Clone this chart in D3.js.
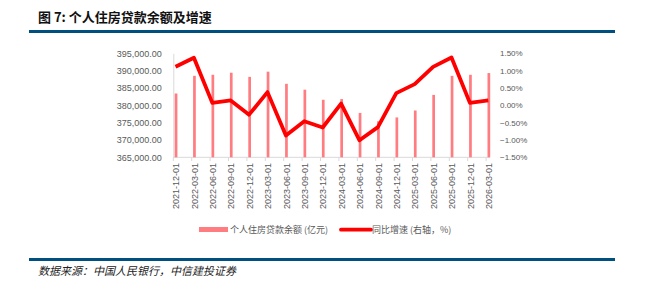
<!DOCTYPE html>
<html>
<head>
<meta charset="utf-8">
<script src="https://cdn.jsdelivr.net/npm/d3@7"></script>
<style>
	body { margin: 0; background: #fff; }
	text { font-family: "Liberation Sans", "Noto Sans CJK SC", sans-serif; }
	.cjk { font-family: "Noto Sans CJK SC", sans-serif; }
</style>
</head>
<body>
<div id="chart"></div>
<script>
///////////////////////////////////////////////////////////////////////////////
//// Data /////////////////////////////////////////////////////////////////////
///////////////////////////////////////////////////////////////////////////////
const categories = [
	"2021-12-01", "2022-03-01", "2022-06-01", "2022-09-01", "2022-12-01",
	"2023-03-01", "2023-06-01", "2023-09-01", "2023-12-01", "2024-03-01",
	"2024-06-01", "2024-09-01", "2024-12-01", "2025-03-01", "2025-06-01",
	"2025-09-01", "2025-12-01", "2026-03-01"
];

// 个人住房贷款余额 (亿元)
const balance = [
	383400, 388500, 388800, 389400, 388200, 389700, 386200, 384500, 381600,
	381800, 377800, 375400, 376500, 378500, 383000, 388500, 388800, 389300
];

// 同比增速 (%)
const growth = [
	1.11, 1.37, 0.07, 0.14, -0.27, 0.38, -0.87, -0.46, -0.64,
	0.05, -1.01, -0.63, 0.35, 0.61, 1.11, 1.38, 0.07, 0.14
];

const leftTicks = [365000, 370000, 375000, 380000, 385000, 390000, 395000];
const rightTicks = [-1.5, -1.0, -0.5, 0, 0.5, 1.0, 1.5];

const title = "图 7: 个人住房贷款余额及增速";
const source = "数据来源：中国人民银行，中信建投证券";
const legendBar = "个人住房贷款余额 (亿元)";
const legendLine = "同比增速 (右轴，%)";

///////////////////////////////////////////////////////////////////////////////
//// Set Up ///////////////////////////////////////////////////////////////////
///////////////////////////////////////////////////////////////////////////////
const width = 672, height = 292;
const barColor = "#ff7c80", lineColor = "#ff0000";
const axisColor = "#d9d9d9", labelColor = "#595959";

const svg = d3.select("#chart")
	.append("svg")
		.attr("width", width)
		.attr("height", height);

const x = d3.scalePoint()
		.domain(categories)
		.range([176, 488.8]);

const yLeft = d3.scaleLinear()
		.domain([365000, 395000])
		.range([157.3, 53.3]);

const yRight = d3.scaleLinear()
		.domain([-1.5, 1.5])
		.range([157.3, 53.3]);

///////////////////////////////////////////////////////////////////////////////
// Title and rules
svg.append("text")
		.attr("class", "cjk")
		.attr("x", 38)
		.attr("y", 21.5)
		.attr("font-size", 13)
		.attr("font-weight", "bold")
		.attr("fill", "#111")
		.text(title);

svg.append("rect")
		.attr("x", 29).attr("y", 30)
		.attr("width", 586).attr("height", 3)
		.attr("fill", "#00507f");

svg.append("rect")
		.attr("x", 29).attr("y", 258)
		.attr("width", 586).attr("height", 3)
		.attr("fill", "#00507f");

svg.append("text")
		.attr("class", "cjk")
		.attr("x", 38)
		.attr("y", 275)
		.attr("font-size", 11)
		.attr("font-style", "italic")
		.attr("fill", "#222")
		.text(source);

///////////////////////////////////////////////////////////////////////////////
//// Axes /////////////////////////////////////////////////////////////////////
///////////////////////////////////////////////////////////////////////////////
const fmtLeft = d3.format(",.2f");
const fmtRight = d => d3.format(".2f")(d) + "%";

const leftAxis = svg.append("g")
		.attr("transform", "translate(173.3, 0)")
		.call(d3.axisLeft(yLeft).tickValues(leftTicks).tickSize(0).tickPadding(11.5).tickFormat(fmtLeft));
leftAxis.select(".domain").attr("stroke", axisColor);
leftAxis.selectAll("text")
		.attr("font-size", 9)
		.attr("fill", labelColor);

const rightAxis = svg.append("g")
		.attr("transform", "translate(500, 0)")
		.call(d3.axisRight(yRight).tickValues(rightTicks).tickSize(0).tickPadding(0).tickFormat(fmtRight));
rightAxis.select(".domain").remove();
rightAxis.selectAll("text")
		.attr("font-size", 8)
		.attr("fill", labelColor);

// x axis: baseline, small ticks, rotated dates
svg.append("line")
		.attr("x1", 173.3).attr("x2", 490)
		.attr("y1", 157.3).attr("y2", 157.3)
		.attr("stroke", axisColor);

svg.selectAll(".xtick")
	.data(categories)
	.enter()
	.append("line")
		.attr("class", "xtick")
		.attr("x1", d => x(d) - 2.7).attr("x2", d => x(d) - 2.7)
		.attr("y1", 157.3).attr("y2", 161)
		.attr("stroke", axisColor);

svg.selectAll(".xlabel")
	.data(categories)
	.enter()
	.append("text")
		.attr("class", "xlabel")
		.attr("transform", d => `translate(${x(d) + 3.2}, 163) rotate(-90)`)
		.attr("text-anchor", "end")
		.attr("font-size", 9)
		.attr("fill", labelColor)
		.text(d => d);

///////////////////////////////////////////////////////////////////////////////
//// Marks ////////////////////////////////////////////////////////////////////
///////////////////////////////////////////////////////////////////////////////
svg.selectAll(".bar")
	.data(categories)
	.enter()
	.append("rect")
		.attr("class", "bar")
		.attr("x", d => x(d) - 1.3)
		.attr("y", (d, i) => yLeft(balance[i]))
		.attr("width", 2.7)
		.attr("height", (d, i) => 157.3 - yLeft(balance[i]))
		.attr("fill", barColor);

const line = d3.line()
		.x((d, i) => x(categories[i]) - 0.5)
		.y(d => yRight(d));

svg.append("path")
		.datum(growth)
		.attr("d", line)
		.attr("fill", "none")
		.attr("stroke", lineColor)
		.attr("stroke-width", 3.8)
		.attr("stroke-linejoin", "round");

///////////////////////////////////////////////////////////////////////////////
//// Legend ///////////////////////////////////////////////////////////////////
///////////////////////////////////////////////////////////////////////////////
svg.append("rect")
		.attr("x", 199).attr("y", 227)
		.attr("width", 29).attr("height", 5)
		.attr("fill", barColor);

svg.append("text")
		.attr("class", "cjk")
		.attr("x", 230)
		.attr("y", 233)
		.attr("font-size", 9)
		.attr("fill", labelColor)
		.text(legendBar);

svg.append("line")
		.attr("x1", 341).attr("x2", 371)
		.attr("y1", 229.7).attr("y2", 229.7)
		.attr("stroke", lineColor)
		.attr("stroke-width", 3.8)
		.attr("stroke-linecap", "round");

svg.append("text")
		.attr("class", "cjk")
		.attr("x", 372)
		.attr("y", 233)
		.attr("font-size", 9)
		.attr("fill", labelColor)
		.text(legendLine);
</script>
</body>
</html>
